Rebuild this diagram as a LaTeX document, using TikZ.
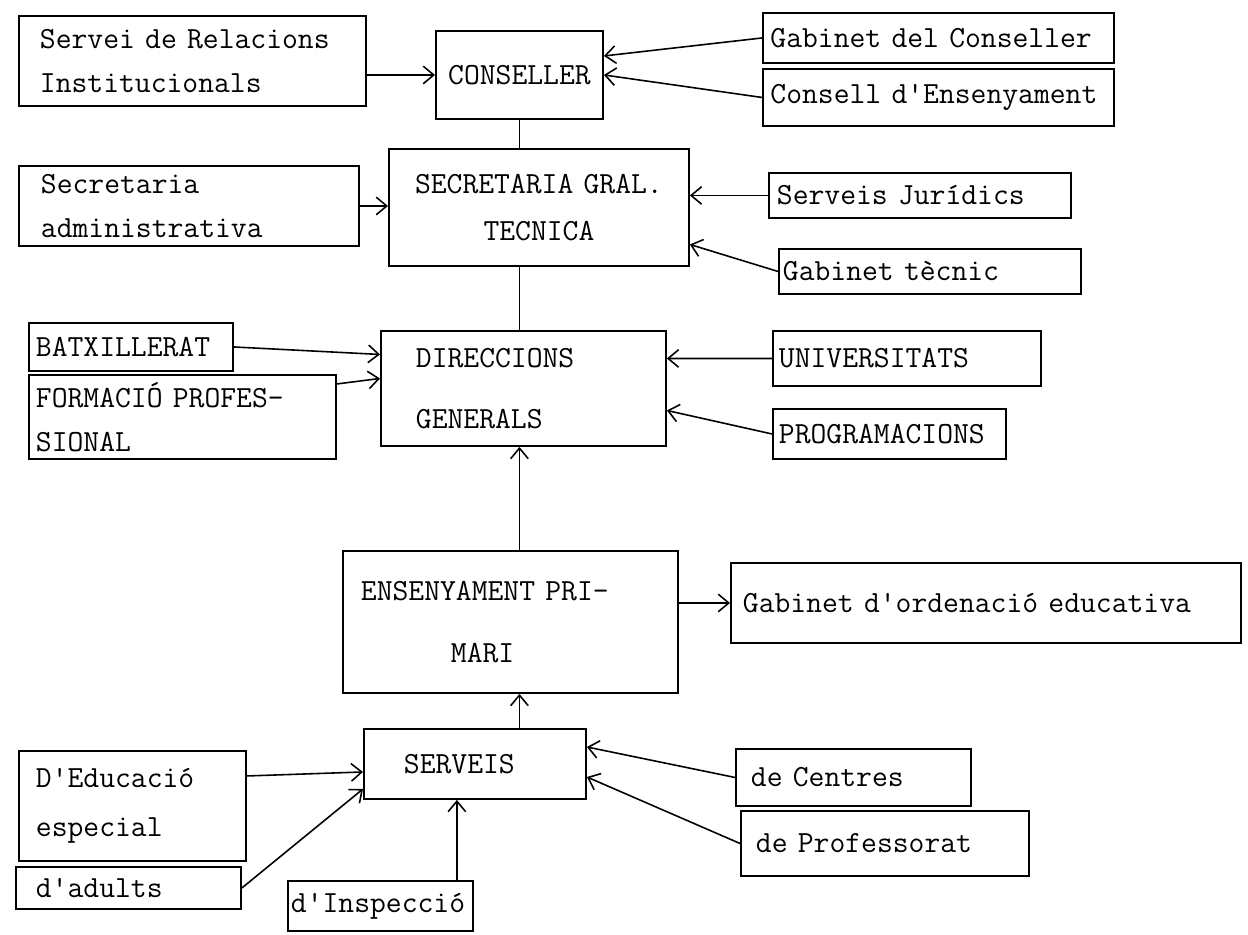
\documentclass[tikz,border=0pt]{standalone}
\usepackage{fontspec}
\usetikzlibrary{arrows.meta,calc}
\newcommand{\orgfont}{\ttfamily\fontsize{17.5}{25}\selectfont}
\tikzset{
  unit/.style={draw, line width=1.1pt, anchor=north west, align=left, font=\orgfont, inner ysep=0pt},
  link/.style={line width=0.9pt, -{Straight Barb[length=6pt,width=10pt]}}
}
\begin{document}
\begin{tikzpicture}[x=0.02cm, y=-0.02cm]
\useasboundingbox (0,0) rectangle (1248,934);
\node[unit, text width=6.1cm, inner xsep=0.42cm, minimum height=1.8cm] (relinst) at (18,15) {Servei de Relacions\\Institucionals};
\node[unit, align=center, text width=3.04cm, inner xsep=0.15cm, minimum height=1.76cm] (conseller) at (435,30) {CONSELLER};
\node[unit, text width=6.72cm, inner xsep=0.15cm, minimum height=1.0cm] (gabcons) at (762,12) {Gabinet del Conseller};
\node[unit, text width=6.72cm, inner xsep=0.15cm, minimum height=1.14cm] (consens) at (762,68) {Consell d'Ensenyament};
\node[unit, align=center, text width=5.7cm, inner xsep=0.15cm, minimum height=2.34cm] (secgral) at (388,148) {SECRETARIA GRAL.\\[2pt]TECNICA};
\node[unit, text width=5.92cm, inner xsep=0.44cm, minimum height=1.6cm] (secadm) at (18,165) {Secretaria\\administrativa};
\node[unit, text width=5.72cm, inner xsep=0.16cm, minimum height=0.9cm] (servjur) at (768,172) {Serveis Jurídics};
\node[unit, text width=5.88cm, inner xsep=0.08cm, minimum height=0.9cm] (gabtec) at (778,248) {Gabinet tècnic};
\node[unit, text width=4.3cm, inner xsep=0.7cm, minimum height=2.3cm] (direcc) at (380,330) {DIRECCIONS\\[10pt]GENERALS};
\node[unit, text width=3.8cm, inner xsep=0.14cm, minimum height=0.96cm] (batx) at (28,322) {BATXILLERAT};
\node[unit, text width=5.86cm, inner xsep=0.14cm, minimum height=1.68cm] (formpro) at (28,374) {FORMACIÓ PROFES-\\SIONAL};
\node[unit, text width=5.12cm, inner xsep=0.12cm, minimum height=1.1cm] (univ) at (772,330) {UNIVERSITATS};
\node[unit, text width=4.42cm, inner xsep=0.12cm, minimum height=1.0cm] (progr) at (772,408) {PROGRAMACIONS};
\node[unit, text width=5.98cm, inner xsep=0.36cm, minimum height=2.84cm] (ensprim) at (342,550) {ENSENYAMENT PRI-\\[10pt]\hspace*{1.8cm}MARI};
\node[unit, text width=9.72cm, inner xsep=0.24cm, minimum height=1.6cm] (gabord) at (730,562) {Gabinet d'ordenació educativa};
\node[unit, text width=2.84cm, inner xsep=0.8cm, minimum height=1.4cm] (serveis) at (363,728) {SERVEIS};
\node[unit, text width=4.1cm, inner xsep=0.3cm, minimum height=1.14cm] (centres) at (735,748) {de Centres};
\node[unit, text width=5.16cm, inner xsep=0.3cm, minimum height=1.3cm] (profes) at (740,810) {de Professorat};
\node[unit, text width=3.86cm, inner xsep=0.34cm, minimum height=2.2cm] (educesp) at (18,750) {D'Educació\\[3pt]especial};
\node[unit, text width=3.7cm, inner xsep=0.4cm, minimum height=0.84cm] (adults) at (15,866) {d'adults};
\node[unit, text width=3.58cm, inner xsep=0.06cm, minimum height=1.0cm] (inspec) at (287,880) {d'Inspecció};
\coordinate (insptop) at ($(inspec.north east)+(-17,0)$);
\draw[link] (relinst.east |- conseller.west) -- (conseller.west);
\draw[link] (gabcons.west) -- ($(conseller.east)+(0,-19)$);
\draw[link] (consens.west) -- (conseller.east);
\draw[line width=0.9pt] (conseller.south) -- (conseller.south |- secgral.north);
\draw[link] (secadm.east) -- (secadm.east -| secgral.west);
\draw[link] (servjur.west) -- (servjur.west -| secgral.east);
\draw[link] (gabtec.west) -- ($(secgral.east)+(0,37)$);
\draw[line width=0.9pt] (secgral.south -| conseller.south) -- (direcc.north -| conseller.south);
\draw[link] (batx.east) -- ($(direcc.west)+(0,-34)$);
\draw[link] ($(formpro.east)+(0,-33)$) -- ($(direcc.west)+(0,-10)$);
\draw[link] (univ.west) -- ($(direcc.east)+(0,-30)$);
\draw[link] (progr.west) -- ($(direcc.east)+(0,22)$);
\draw[link] (ensprim.north -| conseller.south) -- (direcc.south -| conseller.south);
\draw[link] (ensprim.east |- gabord.west) -- (gabord.west);
\draw[link] (serveis.north -| conseller.south) -- (ensprim.south -| conseller.south);
\draw[link] (centres.west) -- ($(serveis.east)+(0,-17)$);
\draw[link] (profes.west) -- ($(serveis.east)+(0,13)$);
\draw[link] ($(educesp.east)+(0,-30)$) -- ($(serveis.west)+(0,8)$);
\draw[link] (adults.east) -- ($(serveis.west)+(0,25)$);
\draw[link] (insptop) -- (insptop |- serveis.south);
\end{tikzpicture}
\end{document}
